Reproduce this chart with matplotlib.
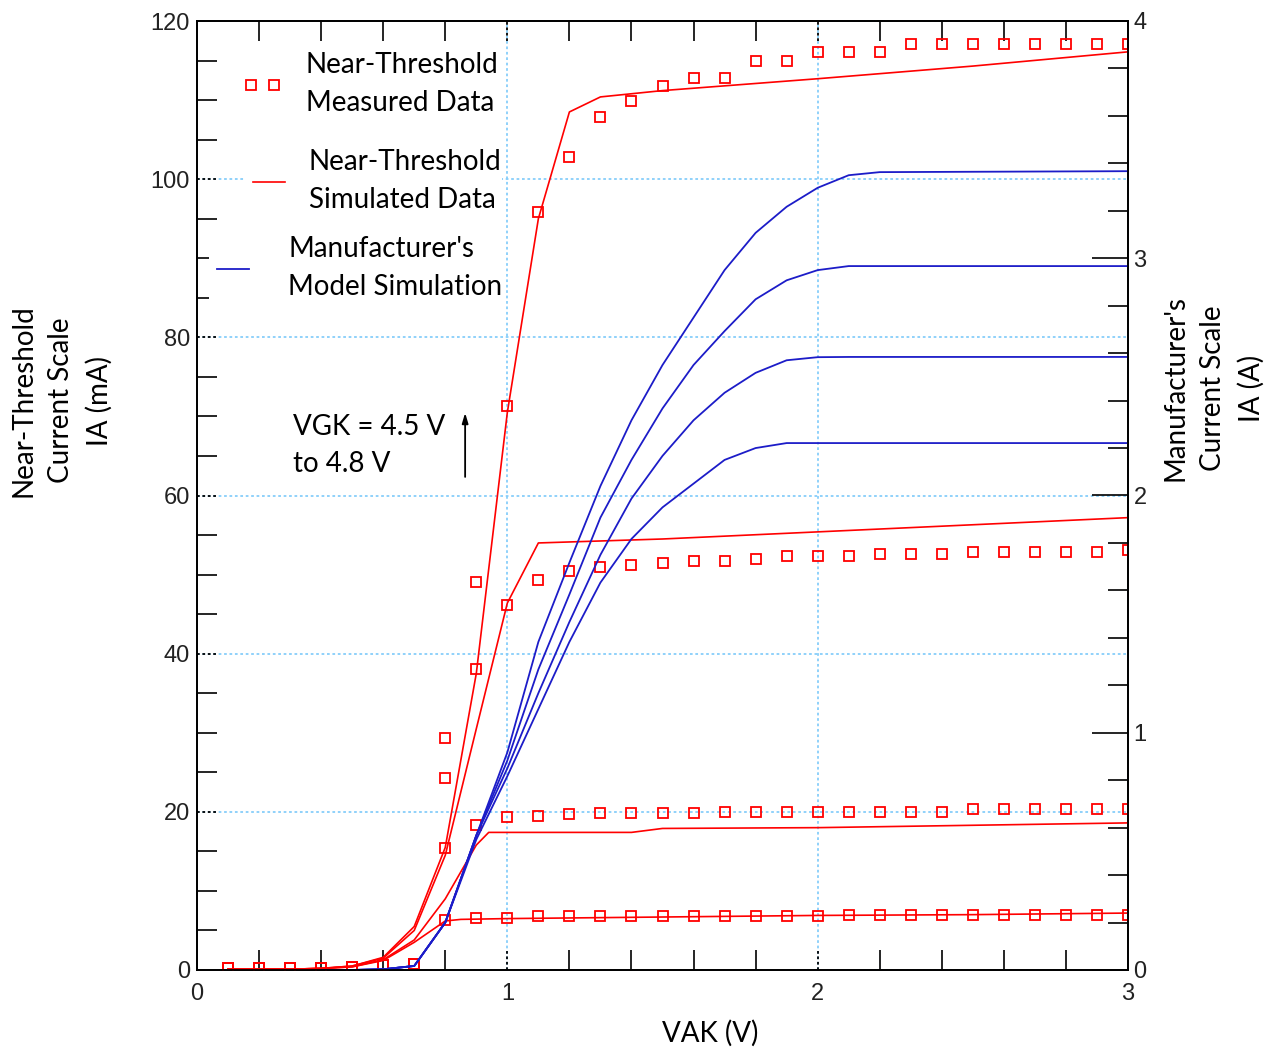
import numpy as np
import matplotlib
matplotlib.use("Agg")
import matplotlib.pyplot as plt
from matplotlib.ticker import MultipleLocator

# ---- data ----
# measured data, VAK = 0.1 ... 3.0 V in 0.1 V steps, IA in mA
meas_v = [0.1, 0.2, 0.3, 0.4, 0.5, 0.6, 0.7, 0.8, 0.9, 1.0,
          1.1, 1.2, 1.3, 1.4, 1.5, 1.6, 1.7, 1.8, 1.9, 2.0,
          2.1, 2.2, 2.3, 2.4, 2.5, 2.6, 2.7, 2.8, 2.9, 3.0]
meas_low = [0.2, 0.2, 0.2, 0.2, 0.4, 0.6, 0.8]
meas_1 = meas_low + [6.3, 6.6, 6.6, 6.8, 6.8, 6.8, 6.8, 6.8, 6.8, 6.8, 6.8, 6.8,
                     6.8, 7.0, 7.0, 7.0, 7.0, 7.0, 7.0, 7.0, 7.0, 7.0, 7.0]
meas_2 = meas_low + [15.4, 18.3, 19.3, 19.5, 19.7, 19.8, 19.9, 19.9, 19.9, 20.0,
                     20.0, 20.0, 20.0, 20.0, 20.0, 20.0, 20.0, 20.4, 20.4, 20.4,
                     20.4, 20.4, 20.4]
meas_3 = meas_low + [24.3, 38.1, 46.2, 49.3, 50.5, 51.0, 51.2, 51.5, 51.7, 51.7,
                     52.0, 52.3, 52.3, 52.3, 52.6, 52.6, 52.6, 52.9, 52.9, 52.9,
                     52.9, 52.9, 53.1]
meas_4 = meas_low + [29.3, 49.1, 71.3, 95.9, 102.8, 107.9, 109.9, 111.8, 112.8,
                     112.8, 115.0, 115.0, 116.1, 116.1, 116.1, 117.1, 117.1, 117.1,
                     117.1, 117.1, 117.1, 117.1, 117.1]

# near-threshold simulation (mA)
sim1_v = [0.1, 0.2, 0.3, 0.4, 0.5, 0.6, 0.7, 0.8, 0.85, 1.0, 1.5, 2.0, 2.5, 3.0]
sim1_i = [0.1, 0.1, 0.1, 0.2, 0.4, 1.2, 3.5, 6.2, 6.4, 6.5, 6.7, 6.9, 7.0, 7.2]
sim2_v = [0.1, 0.2, 0.3, 0.4, 0.5, 0.6, 0.7, 0.8, 0.9, 0.94, 1.4, 1.5, 2.0, 2.5, 3.0]
sim2_i = [0.1, 0.1, 0.1, 0.2, 0.4, 1.3, 3.8, 9.0, 15.8, 17.4, 17.4, 17.9, 18.0, 18.3, 18.6]
sim3_v = [0.1, 0.2, 0.3, 0.4, 0.5, 0.6, 0.7, 0.8, 0.9, 1.0, 1.1, 1.5, 2.0, 2.5, 3.0]
sim3_i = [0.1, 0.1, 0.1, 0.2, 0.5, 1.5, 5.0, 14.5, 30.5, 46.4, 54.0, 54.5, 55.4, 56.3, 57.2]
sim4_v = [0.1, 0.2, 0.3, 0.4, 0.5, 0.6, 0.7, 0.8, 0.9, 1.0, 1.1, 1.2, 1.3, 1.5, 2.0, 2.5, 3.0]
sim4_i = [0.1, 0.1, 0.1, 0.2, 0.5, 1.6, 5.5, 15.5, 37.5, 70.5, 95.0, 108.5, 110.4,
          111.2, 112.7, 114.3, 116.1]

# manufacturer's model (A, right axis)
mfr_v = [0.4, 0.5, 0.6, 0.7, 0.8, 0.9, 1.0, 1.1, 1.2, 1.3, 1.4, 1.5, 1.6, 1.7,
         1.8, 1.9, 2.0, 2.1, 2.2, 3.0]
mfr_a = [0.0, 0.0, 0.003, 0.017, 0.20, 0.567, 0.917, 1.383, 1.717, 2.040, 2.317,
         2.550, 2.750, 2.950, 3.107, 3.217, 3.297, 3.350, 3.363, 3.367]
mfr_b = [0.0, 0.0, 0.003, 0.017, 0.20, 0.567, 0.883, 1.267, 1.583, 1.907, 2.150,
         2.367, 2.550, 2.693, 2.827, 2.907, 2.950, 2.967, 2.967, 2.967]
mfr_c = [0.0, 0.0, 0.003, 0.017, 0.20, 0.567, 0.850, 1.167, 1.467, 1.750, 1.987,
         2.167, 2.317, 2.433, 2.517, 2.570, 2.583, 2.584, 2.584, 2.584]
mfr_d = [0.0, 0.0, 0.003, 0.017, 0.20, 0.550, 0.817, 1.100, 1.383, 1.633, 1.817,
         1.950, 2.050, 2.150, 2.200, 2.221, 2.221, 2.221, 2.221, 2.221]

RED = "#ff0000"
BLUE = "#1c1cc8"
GRID = "#87cefa"
TXT = "Lato"
NUM = "Liberation Sans"

fig = plt.figure(figsize=(12.78, 10.55), dpi=100)
ax = fig.add_axes([197 / 1278, 1 - 970 / 1055, 931 / 1278, 949 / 1055])
ax.set_xlim(0, 3)
ax.set_ylim(0, 120)

ax.grid(True, which="major", color=GRID, ls=(0, (1.5, 1.5)), lw=1.3)
# dotted black stubs where the major ticks would be
dot = (0, (1.5, 1.5))
ax.hlines([20, 40, 60, 80, 100], 0, 20 / 931, transform=ax.get_yaxis_transform(),
          colors="k", linestyles=dot, lw=1.3, zorder=2)
ax.vlines([1, 2], 0, 20 / 949, transform=ax.get_xaxis_transform(),
          colors="k", linestyles=dot, lw=1.3, zorder=2)
ax.vlines([1, 2], 1 - 20 / 949, 1, transform=ax.get_xaxis_transform(),
          colors="k", linestyles=dot, lw=1.3, zorder=2)

sims = []
for v, i in [(sim1_v, sim1_i), (sim2_v, sim2_i), (sim3_v, sim3_i), (sim4_v, sim4_i)]:
    sims += ax.plot(v, i, color=RED, lw=1.2, zorder=3)
meas = []
for m in [meas_1, meas_2, meas_3, meas_4]:
    meas += ax.plot(meas_v, m, ls="none", marker="s", ms=7, mfc="none",
                    mec=RED, mew=1.3, zorder=4)

ax2 = ax.twinx()
ax2.set_ylim(0, 4)
mfr = []
for a in [mfr_a, mfr_b, mfr_c, mfr_d]:
    mfr += ax2.plot(mfr_v, a, color=BLUE, lw=1.3)

# ticks
ax.xaxis.set_major_locator(MultipleLocator(1))
ax.xaxis.set_minor_locator(MultipleLocator(0.2))
ax.yaxis.set_major_locator(MultipleLocator(20))
ax.yaxis.set_minor_locator(MultipleLocator(5))
ax.tick_params(which="both", direction="in", top=True, bottom=True,
               left=True, right=False, colors="k")
ax.tick_params(which="major", length=0)
ax.tick_params(which="minor", length=14.4, width=1.2)
ax.tick_params(axis="x", which="major", pad=9, labelsize=17)
ax.tick_params(axis="y", which="major", pad=5, labelsize=17)

ax2.yaxis.set_major_locator(MultipleLocator(1))
ax2.yaxis.set_minor_locator(MultipleLocator(0.2))
ax2.tick_params(which="both", direction="in", right=True)
ax2.tick_params(which="major", length=26, width=1.2, pad=4, labelsize=17)
ax2.tick_params(which="minor", length=14.4, width=1.2)

for lab in ax.get_xticklabels() + ax.get_yticklabels() + ax2.get_yticklabels():
    lab.set_fontfamily(NUM)
    lab.set_color("#222222")

for a in (ax, ax2):
    for s in a.spines.values():
        s.set_linewidth(1.3)

# labels
fs = 20
ls_txt = 1.55
ax.set_xlabel("VAK (V)", fontsize=fs, fontfamily=TXT)
ax.xaxis.set_label_coords((710 - 197) / 931, -0.053)
ax.text(-0.145, 0.60, "Near-Threshold\nCurrent Scale\nIA (mA)", transform=ax.transAxes,
        rotation=90, ha="center", va="center", multialignment="center",
        fontsize=fs, fontfamily=TXT, linespacing=ls_txt)
ax.text(1.092, 0.613, "Manufacturer's\nCurrent Scale\nIA (A)", transform=ax.transAxes,
        rotation=90, ha="center", va="center", multialignment="center",
        fontsize=fs, fontfamily=TXT, linespacing=ls_txt)

# VGK annotation
ax.text(0.309, 66.3, "VGK = 4.5 V\nto 4.8 V", ha="left", va="center",
        fontsize=fs, fontfamily=TXT, linespacing=ls_txt)
ax.annotate("", xy=(0.864, 70.8), xytext=(0.864, 62.0),
            arrowprops=dict(arrowstyle="-|>,head_length=0.6,head_width=0.18",
                            color="k", lw=1.3))

# legend built from three separate pieces
entries = [
    (meas[0], "Near-Threshold\nMeasured Data", 243, 84, 1.4, 0.85),
    (sims[0], "Near-Threshold\nSimulated Data", 245, 181, 1.75, 0.55),
    (mfr[0], "Manufacturer's\nModel Simulation", 209, 268, 1.75, 1.1),
]
for h, txt, x0, yc, hl, hp in entries:
    leg = ax.legend([h], [txt], loc="center left",
                    bbox_to_anchor=((x0 - 197) / 931, (970 - yc) / 949),
                    bbox_transform=ax.transAxes, borderpad=0, borderaxespad=0,
                    handlelength=hl, handletextpad=hp, numpoints=2,
                    prop={"family": TXT, "size": fs}, frameon=True,
                    fancybox=False, framealpha=1)
    leg.get_frame().set_edgecolor("none")
    leg.get_frame().set_facecolor("white")
    for t in leg.get_texts():
        t.set_linespacing(ls_txt)
    ax.add_artist(leg)

fig.savefig("out.png", dpi=100)
